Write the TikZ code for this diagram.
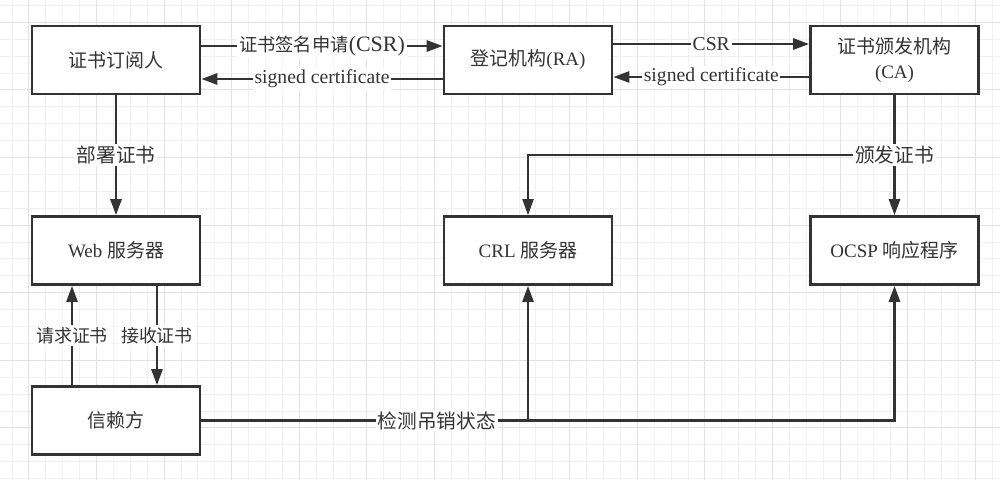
\documentclass[tikz,border=0pt]{standalone}
\usepackage{fontspec}
\setmainfont{Liberation Serif}
\newfontfamily\cjk{Noto Sans CJK SC}
\usepackage{xcolor}
\usetikzlibrary{positioning,calc,arrows.meta}
\definecolor{linegray}{HTML}{333333}
\definecolor{gridminor}{HTML}{F0F0F0}
\definecolor{gridmajor}{HTML}{E2E2E2}
\newcommand{\zh}[1]{{\cjk #1}}
\newcommand{\zhsmall}[1]{{\fontsize{10.4}{12}\selectfont\cjk #1}}

\begin{document}
\begin{tikzpicture}[x=0.02cm, y=-0.02cm,
    box/.style={draw=linegray, line width=1.5pt, fill=white, minimum width=3.36cm,
        minimum height=1.36cm, align=center, text=linegray,
        font=\fontsize{10.8}{14}\selectfont},
    arr/.style={draw=linegray, line width=1.5pt,
        -{Triangle[length=0.32cm,width=0.22cm]}},
    lbl/.style={fill=white, inner sep=1pt, text=linegray,
        font=\fontsize{11.2}{13}\selectfont}]
    % Background grid
    \fill[white] (0,0) rectangle (1000,480);
    \useasboundingbox (0,0) rectangle (1000,480);
    \foreach \k in {0,...,58} {
        \draw[gridminor, line width=0.5pt] ({12+16.9*\k},0) -- ({12+16.9*\k},480);
    }
    \foreach \k in {0,...,28} {
        \draw[gridminor, line width=0.5pt] (0,{5.4+16.9*\k}) -- (1000,{5.4+16.9*\k});
    }
    \foreach \k in {0,...,14} {
        \draw[gridmajor, line width=0.5pt] ({28.9+67.6*\k},0) -- ({28.9+67.6*\k},480);
    }
    \foreach \k in {0,...,6} {
        \draw[gridmajor, line width=0.5pt] (0,{22.3+67.6*\k}) -- (1000,{22.3+67.6*\k});
    }

    % Boxes
    \node[box] (sub) at (116,60) {\zh{证书订阅人}};
    \node[box] (ra) at (528,60) {\zh{登记机构}(RA)};
    \node[box] (ca) at (894.5,60) {\zh{证书颁发机构}\\(CA)};
    \node[box] (web) at (116,250.5) {Web \zh{服务器}};
    \node[box] (crl) at (528,250.5) {CRL \zh{服务器}};
    \node[box] (ocsp) at (894.5,250.5) {OCSP \zh{响应程序}};
    \node[box] (rp) at (116,420.5) {\zh{信赖方}};

    % Requests and signed certificates
    \draw[arr] ([yshift=0.28cm]sub.east) -- ([yshift=0.28cm]ra.west)
        node[lbl, midway, font=\fontsize{12.5}{14}\selectfont] {\zhsmall{证书签名申请}(CSR)};
    \draw[arr] ([yshift=-0.38cm]ra.west) -- ([yshift=-0.38cm]sub.east)
        node[lbl, midway] {signed certificate};
    \draw[arr] ([yshift=0.32cm]ra.east) -- ([yshift=0.32cm]ca.west)
        node[lbl, midway] {CSR};
    \draw[arr] ([yshift=-0.34cm]ca.west) -- ([yshift=-0.34cm]ra.east)
        node[lbl, midway] {signed certificate};

    % Deployment and issuing
    \draw[arr] (sub) -- (web) node[lbl, midway] {\zh{部署证书}};
    \coordinate (issue) at ($(ca.south)!0.5!(ocsp.north)$);
    \draw[arr, line width=1.1pt] (issue) -| (crl.north);
    \draw[arr] (ca) -- (ocsp) node[lbl, midway] {\zh{颁发证书}};

    % Relying party
    \draw[arr] ([xshift=-0.88cm]rp.north) -- ([xshift=-0.88cm]web.south)
        node[lbl, midway, font=\fontsize{10.2}{12}\selectfont] {\zh{请求证书}};
    \draw[arr] ([xshift=0.82cm]web.south) -- ([xshift=0.82cm]rp.north)
        node[lbl, midway, font=\fontsize{10.2}{12}\selectfont] {\zh{接收证书}};
    \draw[arr] (rp.east) -| (crl.south);
    \draw[arr] (rp.east) -| (ocsp.south) node[lbl, pos=0.17] {\zh{检测吊销状态}};
\end{tikzpicture}
\end{document}
